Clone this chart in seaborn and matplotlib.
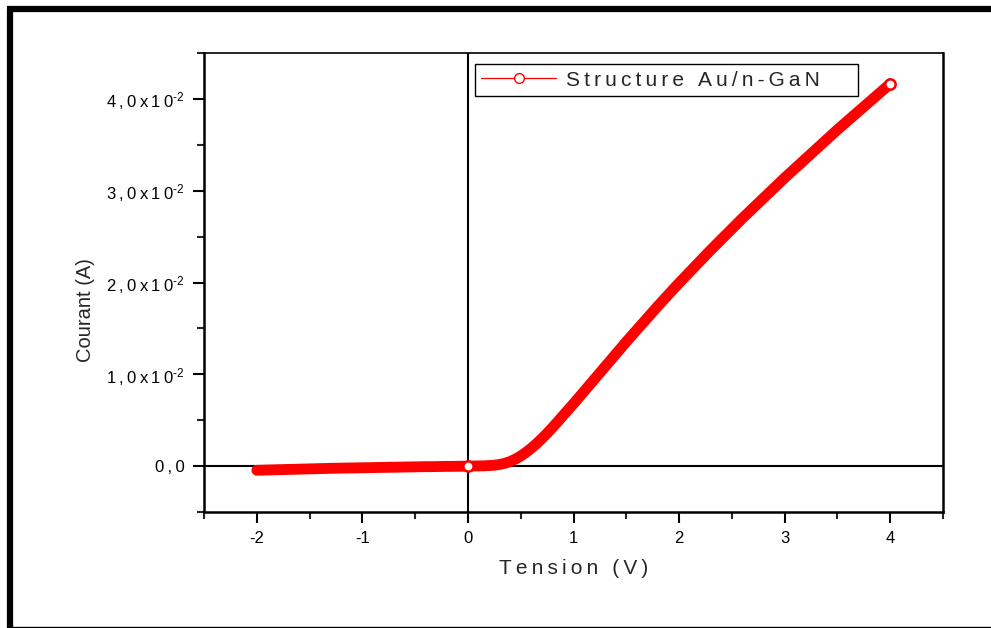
import matplotlib
matplotlib.use("Agg")
import matplotlib.pyplot as plt
from matplotlib.lines import Line2D
from matplotlib import ticker
import seaborn as sns
import pandas as pd

# Forward sweep, 0 V -> 4 V
v_forward = [0.00, 0.05, 0.10, 0.15, 0.20, 0.25, 0.30, 0.35, 0.40, 0.45,
             0.50, 0.55, 0.60, 0.65, 0.70, 0.75, 0.80, 0.85, 0.90, 0.95,
             1.00, 1.05, 1.10, 1.15, 1.20, 1.25, 1.30, 1.35, 1.40, 1.45,
             1.50, 1.55, 1.60, 1.65, 1.70, 1.75, 1.80, 1.85, 1.90, 1.95,
             2.00, 2.05, 2.10, 2.15, 2.20, 2.25, 2.30, 2.35, 2.40, 2.45,
             2.50, 2.55, 2.60, 2.65, 2.70, 2.75, 2.80, 2.85, 2.90, 2.95,
             3.00, 3.05, 3.10, 3.15, 3.20, 3.25, 3.30, 3.35, 3.40, 3.45,
             3.50, 3.55, 3.60, 3.65, 3.70, 3.75, 3.80, 3.85, 3.90, 3.95,
             4.00]
i_forward = [0.00000, 0.00001, 0.00002, 0.00003, 0.00006, 0.00010, 0.00018, 0.00031, 0.00050, 0.00077,
             0.00110, 0.00150, 0.00195, 0.00245, 0.00300, 0.00358, 0.00420, 0.00484, 0.00550, 0.00615,
             0.00680, 0.00747, 0.00815, 0.00882, 0.00950, 0.01017, 0.01085, 0.01152, 0.01220, 0.01287,
             0.01355, 0.01420, 0.01485, 0.01550, 0.01615, 0.01680, 0.01745, 0.01808, 0.01870, 0.01933,
             0.01995, 0.02055, 0.02115, 0.02175, 0.02235, 0.02295, 0.02355, 0.02412, 0.02470, 0.02527,
             0.02585, 0.02642, 0.02700, 0.02755, 0.02810, 0.02865, 0.02920, 0.02975, 0.03030, 0.03085,
             0.03140, 0.03192, 0.03245, 0.03297, 0.03350, 0.03402, 0.03455, 0.03507, 0.03560, 0.03612,
             0.03665, 0.03715, 0.03765, 0.03815, 0.03865, 0.03915, 0.03965, 0.04015, 0.04065, 0.04115,
             0.04165]

# Reverse-bias sweep, -2 V -> 0 V
v_reverse = [-2.00, -1.95, -1.90, -1.85, -1.80, -1.75, -1.70, -1.65, -1.60, -1.55,
             -1.50, -1.45, -1.40, -1.35, -1.30, -1.25, -1.20, -1.15, -1.10, -1.05,
             -1.00, -0.95, -0.90, -0.85, -0.80, -0.75, -0.70, -0.65, -0.60, -0.55,
             -0.50, -0.45, -0.40, -0.35, -0.30, -0.25, -0.20, -0.15, -0.10, -0.05,
             0.00]
i_reverse = [-0.00045, -0.00044, -0.00042, -0.00041, -0.00039, -0.00038, -0.00036, -0.00035, -0.00033, -0.00032,
             -0.00030, -0.00029, -0.00027, -0.00026, -0.00024, -0.00023, -0.00022, -0.00021, -0.00020, -0.00019,
             -0.00018, -0.00017, -0.00016, -0.00015, -0.00014, -0.00013, -0.00012, -0.00011, -0.00010, -0.00009,
             -0.00008, -0.00007, -0.00006, -0.00006, -0.00005, -0.00004, -0.00003, -0.00003, -0.00002, -0.00001,
             0.00000]

y_ticks = [0.0, 0.01, 0.02, 0.03, 0.04]
y_mantissas = ["0,0", "1,0", "2,0", "3,0", "4,0"]
x_ticks = [-2, -1, 0, 1, 2, 3, 4]
series_label = "Structure Au/n-GaN"
x_title = "Tension (V)"
y_title = "Courant (A)"

THIN = "\u2009"


def spaced(s):
    """Open up the letter spacing of a label with thin spaces."""
    return THIN.join(s)


def y_label_text(value, mantissa):
    if value == 0:
        return spaced(mantissa)
    return spaced(mantissa + "x10") + r"$^{\text{-}2}$"


sns.set_theme(style="ticks")
plt.rcParams["font.family"] = ["Liberation Sans", "DejaVu Sans"]
plt.rcParams["mathtext.fontset"] = "custom"
plt.rcParams["mathtext.rm"] = "Liberation Sans"
plt.rcParams["mathtext.it"] = "Liberation Sans:italic"
plt.rcParams["mathtext.bf"] = "Liberation Sans:bold"

fig = plt.figure(figsize=(9.91, 6.28), dpi=100)
ax = fig.add_axes([0.2059, 0.1847, 0.7457, 0.7309])

# zero reference lines
ax.axhline(0, color="black", lw=1.5, zorder=1)
ax.axvline(0, color="black", lw=1.5, zorder=1)

curve_style = dict(color="red", lw=7.8, solid_capstyle="round", marker="o",
                   markersize=7.4, markerfacecolor="white", markeredgecolor="red",
                   markeredgewidth=1.8, estimator=None, sort=False, legend=False,
                   zorder=3)

fwd = pd.DataFrame({"Tension": v_forward, "Courant": i_forward})
rev = pd.DataFrame({"Tension": v_reverse, "Courant": i_reverse})
sns.lineplot(data=fwd, x="Tension", y="Courant", ax=ax,
             markevery=[len(v_forward) - 1], **curve_style)
sns.lineplot(data=rev, x="Tension", y="Courant", ax=ax,
             markevery=[len(v_reverse) - 1], **curve_style)

ax.set_xlim(-2.5, 4.5)
ax.set_ylim(-0.005, 0.045)
ax.set_xticks(x_ticks)
ax.set_xticklabels([str(t) for t in x_ticks])
ax.xaxis.set_minor_locator(ticker.MultipleLocator(0.5))
ax.set_yticks(y_ticks)
ax.set_yticklabels([y_label_text(v, m) for v, m in zip(y_ticks, y_mantissas)])
ax.yaxis.set_minor_locator(ticker.MultipleLocator(0.005))

ax.tick_params(axis="both", which="major", direction="out", length=8, width=1.5,
               labelsize=12, colors="black")
ax.tick_params(axis="y", which="major", pad=6)
ax.tick_params(axis="x", which="major", pad=6)
ax.tick_params(axis="both", which="minor", direction="out", length=5, width=1.5)
ax.tick_params(top=False, right=False, which="both")

for side in ["left", "bottom", "right", "top"]:
    ax.spines[side].set_visible(True)
    ax.spines[side].set_color("black")
ax.spines["left"].set_linewidth(1.8)
ax.spines["bottom"].set_linewidth(1.8)
ax.spines["right"].set_linewidth(1.8)
ax.spines["top"].set_linewidth(1.2)

ax.set_xlabel(spaced(x_title), fontsize=15)
ax.xaxis.set_label_coords(0.5, -0.103)
ax.set_ylabel(y_title, fontsize=14.5)
ax.yaxis.set_label_coords(-0.147, 0.44)

legend_handle = Line2D([], [], color="red", lw=0.9, marker="o", markersize=7,
                       markerfacecolor="white", markeredgecolor="red",
                       markeredgewidth=1.0)
leg = ax.legend(handles=[legend_handle],
                labels=[spaced(series_label) + "\u2002\u2002\u2002"],
                loc="upper left", bbox_to_anchor=(0.366, 0.976), frameon=True,
                fancybox=False, framealpha=1, edgecolor="black", fontsize=15,
                handlelength=3.6, handletextpad=0.45, borderpad=0.32,
                borderaxespad=0)
leg.get_frame().set_linewidth(1.0)

# outer frame of the page
fig.add_artist(Line2D([0.0098, 0.0098], [0.0, 0.9857], transform=fig.transFigure,
                      color="black", lw=4.5, solid_capstyle="butt"))
fig.add_artist(Line2D([0.0073, 1.0], [0.9857, 0.9857], transform=fig.transFigure,
                      color="black", lw=4.5, solid_capstyle="butt"))
fig.add_artist(Line2D([0.0073, 1.0], [0.0016, 0.0016], transform=fig.transFigure,
                      color="black", lw=1.0, solid_capstyle="butt"))

fig.savefig("out.png", dpi=100, facecolor="white")
